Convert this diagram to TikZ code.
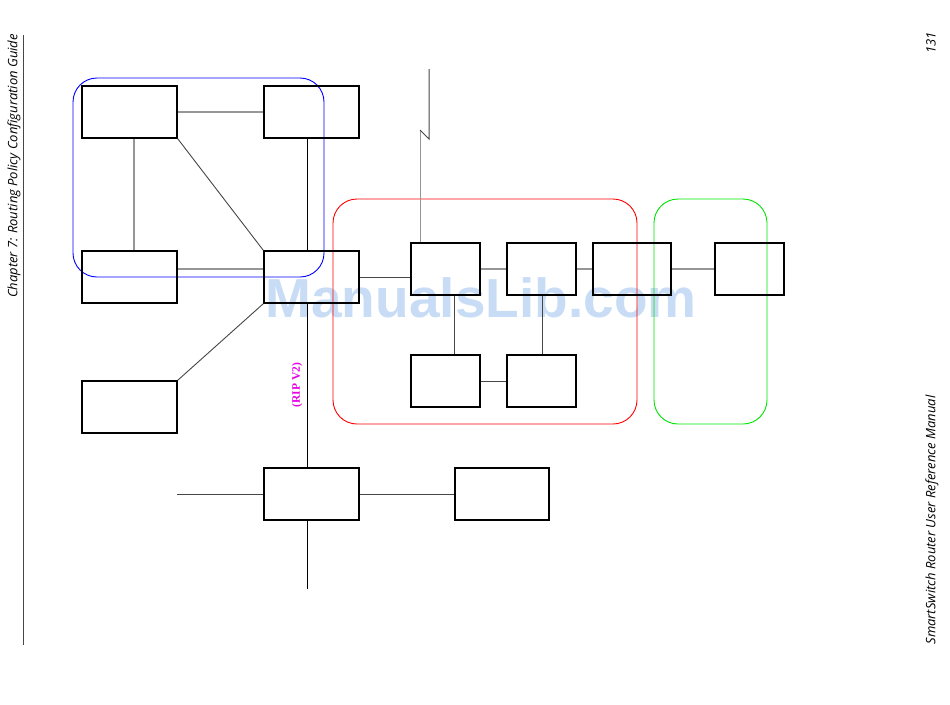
\documentclass[tikz,border=0pt]{standalone}
\usepackage{fontspec}
\setmainfont{Liberation Serif}
\newfontfamily\hdrfont{Open Sans}
\newfontfamily\wmfont{Liberation Sans}
\usetikzlibrary{positioning}
\definecolor{wmblue}{RGB}{200,220,246}
\definecolor{ripmag}{RGB}{230,0,230}
\definecolor{lgray}{RGB}{150,150,150}
\definecolor{dgray}{RGB}{70,70,70}
\tikzset{
  dev/.style={draw=black, line width=1.4pt, inner sep=0pt},
  link/.style={draw=dgray, line width=0.9pt},
  glink/.style={draw=lgray, line width=1.3pt},
  blink/.style={draw=black, line width=0.9pt},
  zone/.style={line width=0.9pt, rounded corners=24pt},
  hdr/.style={font=\hdrfont\itshape\fontsize{13}{15}\selectfont, rotate=90, inner sep=0pt},
}
\begin{document}
\begin{tikzpicture}[x=1pt,y=-1pt]
\useasboundingbox (0,0) rectangle (950,704);
% watermark
\node (wm) at (481,298) {\resizebox{431pt}{!}{\wmfont\bfseries\color{wmblue}ManualsLib.com}};
% page furniture
\node[hdr] (chap) at (14,166) {Chapter 7: Routing Policy Configuration Guide};
\node[hdr] (pnum) at (931,43) {131};
\node[hdr] (manual) at (932,520) {SmartSwitch Router User Reference Manual};
\coordinate (rtop) at (23,35);
\coordinate (rbot) at (23,645);
\draw[line width=0.7pt, dgray] (rtop) -- (rbot);
% zones
\draw[zone, blue] (73,78) rectangle (324,277);
\draw[zone, red] (333,199) rectangle (637,424);
\draw[zone, green!90!black] (654,199) rectangle (767,424);
% devices
\node[dev, minimum width=95pt, minimum height=52pt] (A) at (129.5,112) {};
\node[dev, minimum width=95pt, minimum height=52pt] (B) at (311.5,112) {};
\node[dev, minimum width=95pt, minimum height=52pt] (C) at (129.5,277) {};
\node[dev, minimum width=95pt, minimum height=52pt] (R) at (311.5,277) {};
\node[dev, minimum width=95pt, minimum height=52pt] (D) at (129.5,407) {};
\node[dev, minimum width=95pt, minimum height=52pt] (E) at (311.5,494) {};
\node[dev, minimum width=94pt, minimum height=52pt] (F) at (502,494) {};
\node[dev, minimum width=69pt, minimum height=52pt] (G1) at (445.5,269) {};
\node[dev, minimum width=69pt, minimum height=52pt] (G2) at (541.5,269) {};
\node[dev, minimum width=78pt, minimum height=52pt] (G3) at (632,269) {};
\node[dev, minimum width=69pt, minimum height=52pt] (G4) at (749.5,269) {};
\node[dev, minimum width=69pt, minimum height=52pt] (H1) at (445.5,381) {};
\node[dev, minimum width=69pt, minimum height=52pt] (H2) at (541.5,381) {};
% connectors
\draw[glink] (A.east) -- (B.west);
\draw[glink] (A.south -| 134,0) -- (C.north -| 134,0);
\draw[link] (A.south east) -- (R.north west);
\draw[blink] (B.south -| 307,0) -- (R.north -| 307,0);
\draw[glink] (C.east |- 0,269) -- (R.west |- 0,269);
\draw[link] (D.north east) -- (R.south west);
\draw[link] (R.east) -- (G1.west |- R.east);
\draw[blink] (R.south -| 307,0) -- (E.north -| 307,0);
\coordinate (Eleft) at (177,494);
\draw[link] (Eleft) -- (E.west);
\draw[link] (E.east) -- (F.west);
\coordinate (Ebot) at (307,589);
\draw[blink] (E.south -| Ebot) -- (Ebot);
\draw[glink] (G1.east) -- (G2.west);
\draw[glink] (G2.east) -- (G3.west);
\draw[glink] (G3.east) -- (G4.west);
\draw[link] (G1.south -| 454,0) -- (H1.north -| 454,0);
\draw[link] (G2.south -| 542,0) -- (H2.north -| 542,0);
\draw[link] (H1.east) -- (H2.west);
% WAN link (lightning)
\coordinate (z1) at (420,130);
\coordinate (z2) at (429,139);
\coordinate (z3) at (429,69);
\draw[draw=lgray, line width=0.9pt] (G1.north -| z1) -- (z1);
\draw[draw=dgray, line width=1pt] (z1) -- (z2) -- (z3);
% label
\node[rotate=90, text=ripmag, font=\bfseries\fontsize{11.5}{13}\selectfont, inner sep=0pt] (rip) at (297,385) {(RIP V2)};
\end{tikzpicture}
\end{document}
